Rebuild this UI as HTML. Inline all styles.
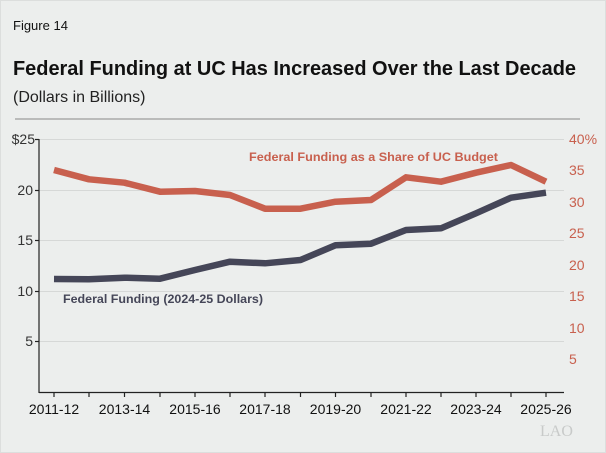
<!DOCTYPE html>
<html><head><style>
body{margin:0;background:#fff}
svg{display:block}
text{font-family:"Liberation Sans",Arial,sans-serif}
text.serif{font-family:"Liberation Serif",serif}
</style></head><body>
<svg width="606" height="453" viewBox="0 0 606 453">
<rect x="0" y="0" width="606" height="453" fill="#eceeed"/>
<rect x="0.5" y="0.5" width="605" height="452" fill="none" stroke="#dcdedd"/>
<text x="13" y="30" font-size="13" fill="#111">Figure 14</text>
<text x="13" y="75" font-size="20" font-weight="bold" fill="#111" textLength="563" lengthAdjust="spacingAndGlyphs">Federal Funding at UC Has Increased Over the Last Decade</text>
<text x="13" y="102" font-size="16" fill="#222">(Dollars in Billions)</text>
<line x1="15" y1="119" x2="580" y2="119" stroke="#888" stroke-width="1"/>
<g stroke="#d6d8d7" stroke-width="1">
<line x1="39" y1="139.5" x2="564" y2="139.5"/>
<line x1="39" y1="190.5" x2="564" y2="190.5"/>
<line x1="39" y1="240.5" x2="564" y2="240.5"/>
<line x1="39" y1="291.5" x2="564" y2="291.5"/>
<line x1="39" y1="341.5" x2="564" y2="341.5"/>
</g>
<g stroke="#222" stroke-width="1.2">
<line x1="39" y1="139" x2="39" y2="393"/>
<line x1="39" y1="392.5" x2="564" y2="392.5"/>
<line x1="35" y1="139.5" x2="39" y2="139.5"/>
<line x1="35" y1="190.5" x2="39" y2="190.5"/>
<line x1="35" y1="240.5" x2="39" y2="240.5"/>
<line x1="35" y1="291.5" x2="39" y2="291.5"/>
<line x1="35" y1="341.5" x2="39" y2="341.5"/>
</g>
<g font-size="14" fill="#333" text-anchor="end">
<text x="35" y="144">$25</text><text x="33" y="195">20</text><text x="33" y="245">15</text><text x="33" y="296">10</text><text x="33" y="346">5</text>
</g>
<g font-size="14" fill="#c8604e" text-anchor="start">
<text x="569" y="144">40%</text><text x="569" y="175">35</text><text x="569" y="207">30</text><text x="569" y="238">25</text><text x="569" y="270">20</text><text x="569" y="301">15</text><text x="569" y="333">10</text><text x="569" y="364">5</text>
</g>
<g font-size="14" fill="#111" text-anchor="middle">
<text x="54" y="414">2011-12</text><text x="124.5" y="414">2013-14</text><text x="195" y="414">2015-16</text><text x="265" y="414">2017-18</text><text x="335.5" y="414">2019-20</text><text x="406" y="414">2021-22</text><text x="476" y="414">2023-24</text><text x="546" y="414">2025-26</text>
</g>
<g stroke="#222" stroke-width="1.2">
<line x1="54" y1="392" x2="54" y2="397"/><line x1="89" y1="392" x2="89" y2="397"/><line x1="124.5" y1="392" x2="124.5" y2="397"/><line x1="160" y1="392" x2="160" y2="397"/><line x1="195" y1="392" x2="195" y2="397"/><line x1="230" y1="392" x2="230" y2="397"/><line x1="265" y1="392" x2="265" y2="397"/><line x1="300.5" y1="392" x2="300.5" y2="397"/><line x1="335.5" y1="392" x2="335.5" y2="397"/><line x1="371" y1="392" x2="371" y2="397"/><line x1="406" y1="392" x2="406" y2="397"/><line x1="441" y1="392" x2="441" y2="397"/><line x1="476" y1="392" x2="476" y2="397"/><line x1="511" y1="392" x2="511" y2="397"/><line x1="546" y1="392" x2="546" y2="397"/>
</g>
<polyline fill="none" stroke="#c8604e" stroke-width="6.5" stroke-linejoin="round" points="54,170 89,179.3 124.5,182.7 160,191.7 195,191 230,195 265,208.7 300.5,208.7 335.5,201.7 371,200 406,177.3 441,181.7 476,172.7 511,165 546,181.7"/>
<polyline fill="none" stroke="#454658" stroke-width="6.5" stroke-linejoin="round" points="54,279 89,279.3 124.5,277.7 160,278.7 195,270 230,261.7 265,263.3 300.5,260 335.5,245.3 371,243.7 406,230 441,228.3 476,213.3 511,197.7 546,192.7"/>
<text x="249" y="161" font-size="12" font-weight="bold" fill="#c8604e" textLength="249" lengthAdjust="spacingAndGlyphs">Federal Funding as a Share of UC Budget</text>
<text x="63" y="303" font-size="12" font-weight="bold" fill="#454658" textLength="200" lengthAdjust="spacingAndGlyphs">Federal Funding (2024-25 Dollars)</text>
<text class="serif" x="540" y="436" font-size="16" fill="#c8cac9">LAO</text>
</svg>
</body></html>
